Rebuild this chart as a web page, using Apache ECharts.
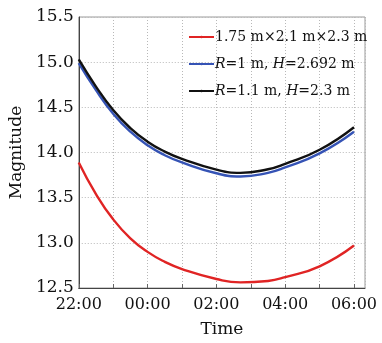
<!DOCTYPE html>
<html>
<head>
<meta charset="utf-8">
<script src="https://cdn.jsdelivr.net/npm/echarts@6/dist/echarts.min.js"></script>
<style>
  html, body { margin: 0; padding: 0; background: #fff; }
  #main { width: 382px; height: 343px; }
</style>
</head>
<body>
<div id="main"></div>
<script>
// hours after 22:00
const hours = [0, 0.5, 1, 1.5, 2, 2.5, 3, 4, 4.7, 5.5, 6, 7, 8]
const boxMag = [13.89, 13.54, 13.26, 13.05, 12.90, 12.79, 12.71, 12.60, 12.562, 12.578, 12.62, 12.74, 12.97]
const cylAMag = [14.99, 14.69, 14.43, 14.23, 14.08, 13.97, 13.89, 13.77, 13.735, 13.775, 13.835, 13.99, 14.23]
const cylBMag = [15.03, 14.73, 14.47, 14.27, 14.12, 14.01, 13.93, 13.81, 13.775, 13.815, 13.875, 14.03, 14.28]
const timeLabels = { 0: '22:00', 2: '00:00', 4: '02:00', 6: '04:00', 8: '06:00' }
const names = ['1.75 m×2.1 m×2.3 m', 'R=1 m, H=2.692 m', 'R=1.1 m, H=2.3 m']

const serif = 'DejaVu Serif'
const toPairs = arr => hours.map((h, i) => [h, arr[i]])

const chart = echarts.init(document.getElementById('main'))

const mkLine = (name, data, color) => ({
  name: name,
  type: 'line',
  data: toPairs(data),
  smooth: 0.5,
  symbol: 'circle',
  symbolSize: 3,
  showSymbol: false,
  lineStyle: { color: color, width: 2.4 },
  itemStyle: { color: color },
  z: 3
})

chart.setOption({
  backgroundColor: '#fff',
  animation: false,
  grid: {
    left: 78, right: 17, top: 17, bottom: 54,
    show: true,
    borderColor: '#9a9a9a',
    borderWidth: 1
  },
  legend: {
    left: 183,
    top: 25,
    orient: 'vertical',
    itemWidth: 25,
    itemHeight: 3,
    itemGap: 13,
    data: names,
    formatter: function (n) {
      return n.replace(/R=/, '{i|R}=').replace(/H=/, '{i|H}=')
    },
    textStyle: {
      fontFamily: serif,
      fontSize: 14,
      color: '#111',
      padding: [0, 0, 0, -4],
      rich: {
        i: { fontFamily: serif, fontSize: 14, fontStyle: 'italic', color: '#111' }
      }
    }
  },
  xAxis: {
    type: 'value',
    min: 0,
    max: 8.32,
    interval: 1,
    name: 'Time',
    nameLocation: 'middle',
    nameGap: 33,
    nameTextStyle: { fontFamily: serif, fontSize: 17, color: '#111' },
    axisLine: { lineStyle: { color: '#444' } },
    axisTick: { inside: true, length: 4, lineStyle: { color: '#666' } },
    axisLabel: {
      fontFamily: serif,
      fontSize: 16,
      color: '#111',
      margin: 9,
      showMaxLabel: false,
      formatter: v => timeLabels[v] || ''
    },
    splitLine: { show: true, lineStyle: { color: '#b8b8b8', type: [1, 2] } }
  },
  yAxis: {
    type: 'value',
    min: 12.5,
    max: 15.5,
    interval: 0.5,
    name: 'Magnitude',
    nameLocation: 'middle',
    nameGap: 47,
    nameTextStyle: { fontFamily: serif, fontSize: 17, color: '#111' },
    axisLine: { show: true, lineStyle: { color: '#444' } },
    axisTick: { show: false },
    axisLabel: {
      fontFamily: serif,
      fontSize: 17,
      color: '#111',
      margin: 5,
      formatter: v => v.toFixed(1)
    },
    splitLine: { show: true, lineStyle: { color: '#b8b8b8', type: [1, 2] } }
  },
  series: [
    mkLine(names[0], boxMag, '#e02424'),
    mkLine(names[1], cylAMag, '#3553b5'),
    mkLine(names[2], cylBMag, '#111111')
  ]
})
</script>
</body>
</html>
